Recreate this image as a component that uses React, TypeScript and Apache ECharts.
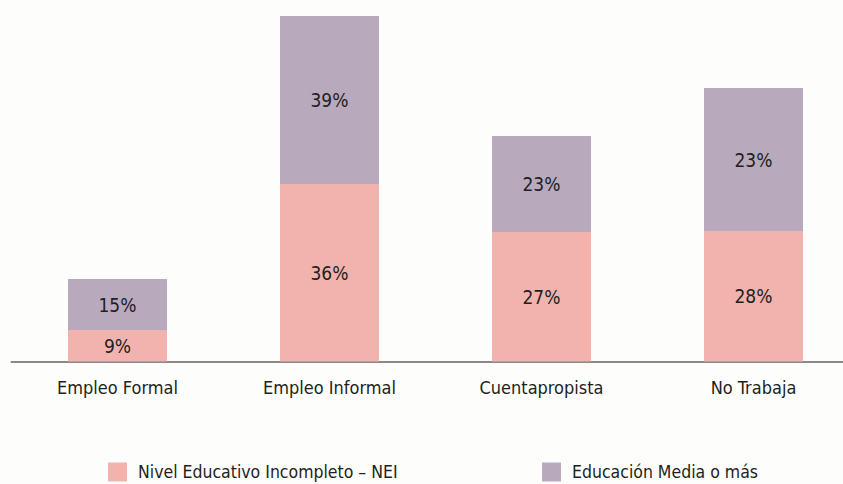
import React, { useEffect, useRef } from "react";
import * as echarts from "echarts";

const categories = ["Empleo Formal", "Empleo Informal", "Cuentapropista", "No Trabaja"];
const seriesNames = ["Nivel Educativo Incompleto – NEI", "Educación Media o más"];
// bar heights (relative units)
const neiHeights = [6.3, 35.5, 25.9, 26.1];
const mediaHeights = [10.2, 33.6, 19.2, 28.6];
// printed labels
const neiLabels = ["9%", "36%", "27%", "28%"];
const mediaLabels = ["15%", "39%", "23%", "23%"];

const FONT = "'Liberation Sans Narrow', 'DejaVu Sans Condensed', 'Roboto Condensed', 'Noto Sans', sans-serif";
const PINK = "#F2B2AD";
const PURPLE = "#B9A9BD";
const TEXT = "#231F20";

export default function App() {
  const ref = useRef<HTMLDivElement>(null);
  useEffect(() => {
    if (!ref.current) return;
    const chart = echarts.init(ref.current, null, { renderer: "svg" });
    const labelCfg = (labels: string[]) => ({
      show: true,
      position: "inside",
      fontFamily: FONT,
      fontSize: 19,
      color: TEXT,
      formatter: (p: any) => labels[p.dataIndex],
    });
    const legendText = {
      fontFamily: FONT,
      fontSize: 17.5,
      lineHeight: 19,
      color: TEXT,
      padding: [0, 0, 5, 6],
    };
    chart.setOption({
      animation: false,
      backgroundColor: "#FDFDFC",
      textStyle: { fontFamily: FONT },
      grid: { left: 11.5, top: 16, right: 0.5, height: 345.5, containLabel: false },
      legend: [
        {
          data: [seriesNames[0]],
          left: 108,
          top: 460,
          padding: 0,
          itemWidth: 19,
          itemHeight: 19,
          icon: "rect",
          textStyle: legendText,
        },
        {
          data: [seriesNames[1]],
          left: 542,
          top: 460,
          padding: 0,
          itemWidth: 19,
          itemHeight: 19,
          icon: "rect",
          textStyle: legendText,
        },
      ],
      xAxis: {
        type: "category",
        data: categories,
        axisLine: { show: true, lineStyle: { color: "#8A8A8A", width: 2 } },
        axisTick: { show: false },
        axisLabel: { fontFamily: FONT, fontSize: 18, color: TEXT, margin: 17 },
      },
      yAxis: {
        type: "value",
        min: 0,
        max: 69.1,
        show: false,
        splitLine: { show: false },
      },
      series: [
        {
          name: seriesNames[0],
          type: "bar",
          stack: "total",
          data: neiHeights,
          barWidth: 99,
          itemStyle: { color: PINK },
          label: labelCfg(neiLabels),
        },
        {
          name: seriesNames[1],
          type: "bar",
          stack: "total",
          data: mediaHeights,
          barWidth: 99,
          itemStyle: { color: PURPLE },
          label: labelCfg(mediaLabels),
        },
      ],
    });
    return () => chart.dispose();
  }, []);
  return (
    <div
      style={{
        position: "fixed",
        left: 0,
        top: 0,
        width: 843,
        height: 484,
        overflow: "hidden",
        background: "#FDFDFC",
      }}
    >
      <div ref={ref} style={{ width: 860, height: 484 }} />
    </div>
  );
}
